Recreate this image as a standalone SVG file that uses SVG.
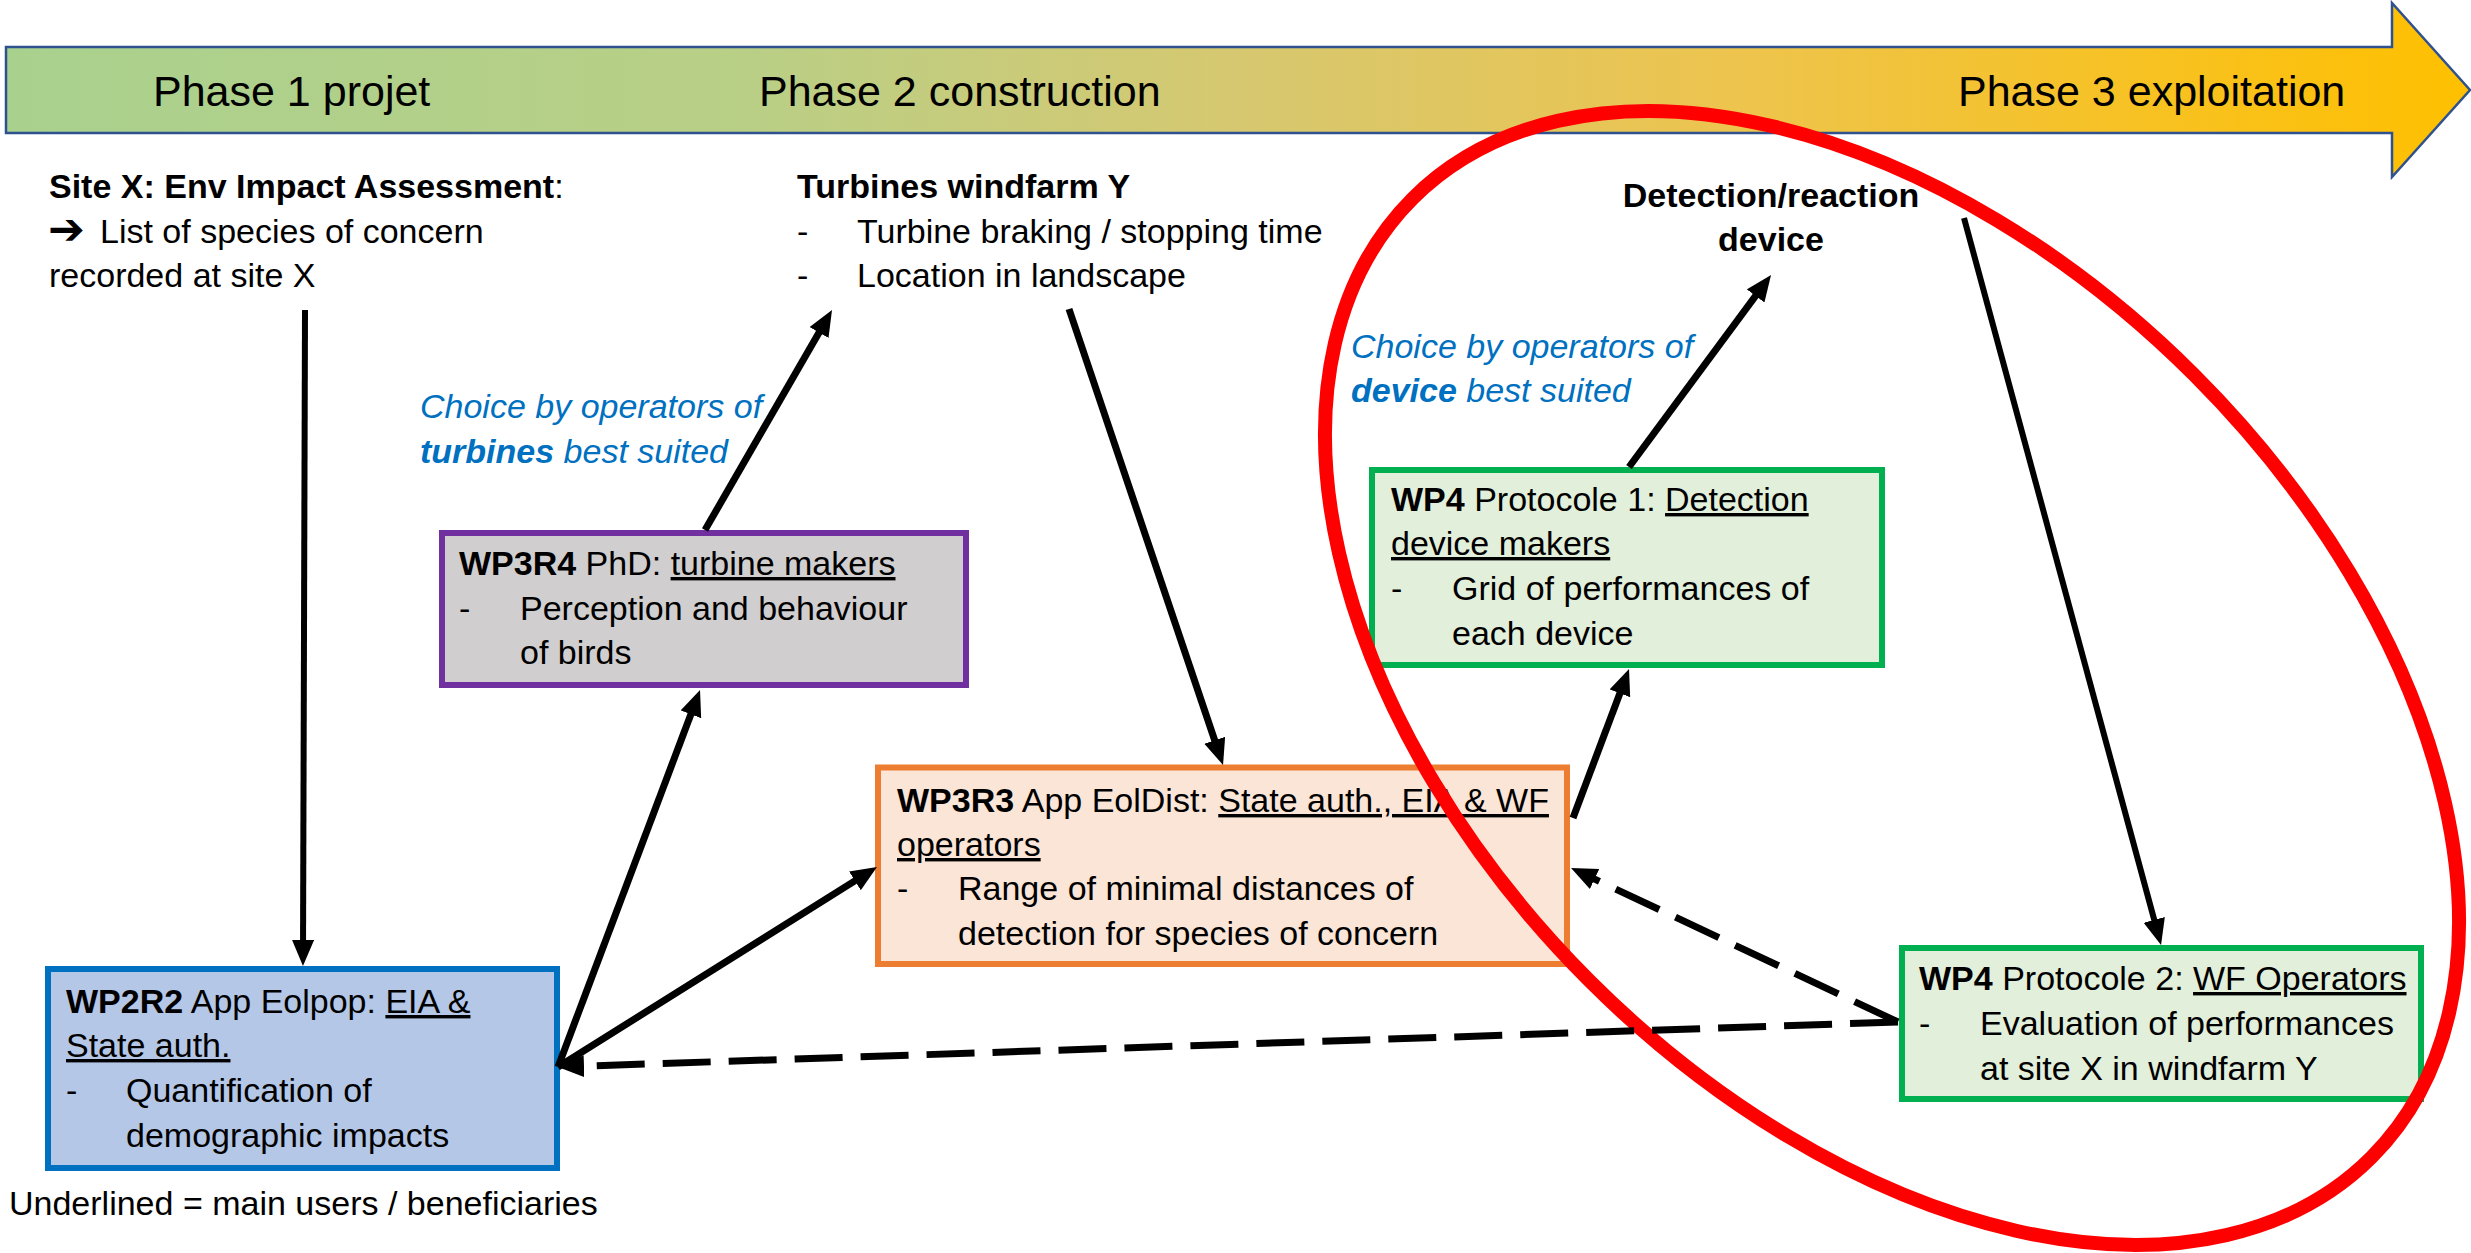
<svg xmlns="http://www.w3.org/2000/svg" width="2471" height="1253" viewBox="0 0 2471 1253">
<style>
.t{font-family:'Liberation Sans',Arial,sans-serif;font-size:34px;fill:#000}
.b{font-weight:bold}
.u{text-decoration:underline}
.ph{font-size:43px}
.blue{fill:#0070C0;font-style:italic}
.box{stroke-width:6}
.conn{stroke:#000;stroke-width:7;fill:none}
.thin{stroke-width:6}
.dash{stroke-dasharray:48 18}
</style>
<defs>
<linearGradient id="gr" x1="0" y1="0" x2="1" y2="0">
<stop offset="0" stop-color="#A9D18E"/>
<stop offset="0.3" stop-color="#B9CF86"/>
<stop offset="0.5" stop-color="#D6C870"/>
<stop offset="0.7" stop-color="#EDC44E"/>
<stop offset="1" stop-color="#FFC000"/>
</linearGradient>
<marker id="ah" markerUnits="userSpaceOnUse" markerWidth="28" markerHeight="24" refX="14" refY="11" orient="auto">
<path d="M0,0 L26,11 L0,22 Z" fill="#000"/>
</marker>
</defs>

<g id="phase-arrow">
<path d="M6,47 L2392,47 L2392,3 L2470,90 L2392,177 L2392,133 L6,133 Z" fill="url(#gr)" stroke="#2F528F" stroke-width="2.5"/>
<text class="t ph" x="153" y="106">Phase 1 projet</text>
<text class="t ph" x="759" y="106">Phase 2 construction</text>
<text class="t ph" x="1958" y="106">Phase 3 exploitation</text>
</g>

<g id="site-x">
<text class="t" x="49" y="198"><tspan class="b">Site X: Env Impact Assessment</tspan>:</text>
<text class="t" y="244"><tspan x="48" style="font-family:'DejaVu Sans',sans-serif;font-weight:bold;font-size:44px">➔</tspan><tspan x="100" y="243">List of species of concern</tspan></text>
<text class="t" x="49" y="287">recorded at site X</text>
</g>

<g id="turbines-windfarm">
<text class="t b" x="797" y="198">Turbines windfarm Y</text>
<text class="t" y="243"><tspan x="797">-</tspan><tspan x="857">Turbine braking / stopping time</tspan></text>
<text class="t" y="287"><tspan x="797">-</tspan><tspan x="857">Location in landscape</tspan></text>
</g>

<g id="detection-device">
<text class="t b" x="1771" y="207" text-anchor="middle">Detection/reaction</text>
<text class="t b" x="1771" y="251" text-anchor="middle">device</text>
</g>

<g id="choice-turbines">
<text class="t blue" x="420" y="418">Choice by operators of</text>
<text class="t blue" x="420" y="463"><tspan class="b">turbines</tspan> best suited</text>
</g>

<g id="choice-device">
<text class="t blue" x="1351" y="358">Choice by operators of</text>
<text class="t blue" x="1351" y="402"><tspan class="b">device</tspan> best suited</text>
</g>

<g id="wp3r4">
<rect class="box" x="442" y="533" width="524" height="152" fill="#D0CECE" stroke="#7030A0"/>
<text class="t" x="459" y="575"><tspan class="b">WP3R4</tspan> PhD: <tspan class="u">turbine makers</tspan></text>
<text class="t" y="620"><tspan x="459">-</tspan><tspan x="520">Perception and behaviour</tspan></text>
<text class="t" x="520" y="664">of birds</text>
</g>

<g id="wp2r2">
<rect class="box" x="48" y="969" width="509" height="199" fill="#B4C7E7" stroke="#0070C0"/>
<text class="t" x="66" y="1013"><tspan class="b">WP2R2</tspan> App Eolpop: <tspan class="u">EIA &amp;</tspan></text>
<text class="t" x="66" y="1057"><tspan class="u">State auth.</tspan></text>
<text class="t" y="1102"><tspan x="66">-</tspan><tspan x="126">Quantification of</tspan></text>
<text class="t" x="126" y="1147">demographic impacts</text>
</g>

<g id="wp3r3">
<rect class="box" x="878" y="767.5" width="689" height="196.5" fill="#FBE5D6" stroke="#ED7D31"/>
<text class="t" x="897" y="812"><tspan class="b">WP3R3</tspan> App EolDist: <tspan class="u">State auth., EIA &amp; WF</tspan></text>
<text class="t" x="897" y="856"><tspan class="u">operators</tspan></text>
<text class="t" y="900"><tspan x="897">-</tspan><tspan x="958">Range of minimal distances of</tspan></text>
<text class="t" x="958" y="945">detection for species of concern</text>
</g>

<g id="wp4-p1">
<rect class="box" x="1372" y="470" width="510" height="195" fill="#E2EFDA" stroke="#00B050"/>
<text class="t" x="1391" y="511"><tspan class="b">WP4</tspan> Protocole 1: <tspan class="u">Detection</tspan></text>
<text class="t" x="1391" y="555"><tspan class="u">device makers</tspan></text>
<text class="t" y="600"><tspan x="1391">-</tspan><tspan x="1452">Grid of performances of</tspan></text>
<text class="t" x="1452" y="645">each device</text>
</g>

<g id="wp4-p2">
<rect class="box" x="1902" y="948" width="519" height="151" fill="#E2EFDA" stroke="#00B050"/>
<text class="t" x="1919" y="990"><tspan class="b">WP4</tspan> Protocole 2: <tspan class="u">WF Operators</tspan></text>
<text class="t" y="1035"><tspan x="1919">-</tspan><tspan x="1980">Evaluation of performances</tspan></text>
<text class="t" x="1980" y="1080">at site X in windfarm Y</text>
</g>

<g id="legend">
<text class="t" x="9" y="1215">Underlined = main users / beneficiaries</text>
</g>

<g id="highlight">
<ellipse cx="1892" cy="678" rx="678" ry="428" transform="rotate(45 1892 678)" fill="none" stroke="#FF0000" stroke-width="14"/>
</g>

<g id="connectors">
<line class="conn thin" x1="305" y1="310" x2="303" y2="954" marker-end="url(#ah)"/>
<line class="conn" x1="558" y1="1067" x2="695.8" y2="701.2" marker-end="url(#ah)"/>
<line class="conn" x1="558" y1="1067" x2="866.8" y2="873.4" marker-end="url(#ah)"/>
<line class="conn" x1="705" y1="530" x2="826" y2="320.4" marker-end="url(#ah)"/>
<line class="conn" x1="1069" y1="309" x2="1219.2" y2="753.6" marker-end="url(#ah)"/>
<line class="conn" x1="1573" y1="818" x2="1624.8" y2="680.2" marker-end="url(#ah)"/>
<line class="conn" x1="1629" y1="467" x2="1763.9" y2="284.6" marker-end="url(#ah)"/>
<line class="conn thin" x1="1964" y1="218" x2="2157.9" y2="933.4" marker-end="url(#ah)"/>
<line class="conn dash" x1="1898" y1="1022" x2="1581.9" y2="873.1" marker-end="url(#ah)"/>
<line class="conn dash" x1="1898" y1="1022" x2="570" y2="1066.6" marker-end="url(#ah)"/>
</g>
</svg>
